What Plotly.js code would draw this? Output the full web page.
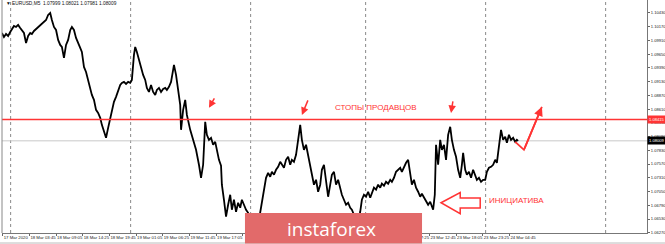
<!DOCTYPE html>
<html><head><meta charset="utf-8">
<script src="https://cdn.plot.ly/plotly-3.0.1.min.js"></script>
<style>html,body{margin:0;padding:0;background:#fff;}#chart{width:665px;height:244px;}</style>
</head><body><div id="chart"></div>
<script>
// M5 bar index (0 = 17 Mar 22:25) and EURUSD price
const barIdx = [-2,3,8,13,18,22,27,32,37,42,46,51,56,61,66,70,75,80,85,90,94,99,104,109,114,118,123,128,133,138,142,147,152,157,162,166,171,176,181,186,190,195,200,205,210,214,219,224,229,234,238,243,248,253,258,262,267,272,277,282,286,291,296,301,306,310,315,318,322,327,332,337,342,346,351,356,361,366,370,375,380,385,390,394,399,404,409,411,416,421,426,428,433,438,442,450,457,464,471,476,481,486,490,495,500,505,510,514,519,524,526,531,536,541,546,550,555,560,565,570,574,579,584,589,594,601,608,613,618,622,627,632,637,642,646,651,656,661,666,670,675,680,685,690,694,699,704,709,714,718,723,728,733,738,742,747,752,757,762,766,771,776,781,786,790,795,800,805,810,814,819,824,829,834,838,846,853,858,862,867,872,877,882,886,891,896,901,906,910,915,920,925,930,934,939,944,949,954,958,963,968,973,978,982,987,992,997,1002,1006,1011,1016,1021,1026,1030,1033,1037,1040,1045,1050,1054,1059,1064,1069,1074,1078,1083,1088,1093,1098,1102,1105,1110,1114,1119,1124,1129,1134,1138,1143,1148,1153,1158,1162,1167,1172,1177,1182,1186,1189,1194,1196,1201,1206,1210,1215,1220,1225,1230,1234,1237];
const prices = [1.10050,1.09975,1.10031,1.09994,1.10069,1.10126,1.10183,1.10164,1.10202,1.10145,1.10107,1.10050,1.09861,1.09994,1.10050,1.10031,1.10088,1.10126,1.10164,1.10202,1.10239,1.10277,1.10296,1.10391,1.10428,1.10296,1.10164,1.10107,1.09918,1.09824,1.09786,1.09578,1.09824,1.09918,1.10107,1.10164,1.10107,1.09956,1.09842,1.09767,1.09691,1.09408,1.09313,1.09162,1.08973,1.08879,1.08784,1.08595,1.08538,1.08444,1.08311,1.08161,1.08066,1.08255,1.08444,1.08557,1.08746,1.08841,1.08973,1.09067,1.09105,1.09124,1.09086,1.09124,1.09105,1.09162,1.09635,1.09786,1.09691,1.09540,1.09408,1.09257,1.09162,1.09011,1.08935,1.09067,1.08935,1.08879,1.08973,1.09011,1.08935,1.08992,1.09011,1.08973,1.09030,1.09124,1.09351,1.09446,1.09257,1.09011,1.08689,1.08217,1.08595,1.08784,1.08500,1.08217,1.08028,1.07839,1.07556,1.07310,1.07556,1.08368,1.08123,1.08028,1.08066,1.07934,1.07990,1.07839,1.07650,1.07537,1.07179,1.06894,1.06573,1.06800,1.06989,1.06705,1.06894,1.06667,1.06837,1.06743,1.06894,1.06800,1.06705,1.06648,1.06478,1.06402,1.06592,1.06421,1.06667,1.06894,1.07141,1.07310,1.07404,1.07329,1.07423,1.07367,1.07461,1.07518,1.07612,1.07556,1.07499,1.07650,1.07707,1.07556,1.07650,1.07612,1.07745,1.08028,1.08311,1.08028,1.07839,1.07934,1.07745,1.07556,1.07367,1.07179,1.07272,1.07046,1.07179,1.07461,1.07556,1.07272,1.06951,1.07179,1.07367,1.07423,1.07179,1.07272,1.07084,1.06989,1.06894,1.06800,1.06837,1.06743,1.06705,1.06554,1.06478,1.06667,1.06894,1.06989,1.06951,1.07046,1.06932,1.07008,1.07122,1.07084,1.07179,1.07122,1.07198,1.07160,1.07234,1.07198,1.07272,1.07234,1.07310,1.07423,1.07461,1.07499,1.07423,1.07518,1.07593,1.07650,1.07367,1.07179,1.07272,1.07122,1.07046,1.06951,1.07008,1.06932,1.06875,1.06800,1.06856,1.06762,1.06705,1.06989,1.07934,1.07556,1.08028,1.07839,1.07934,1.07650,1.08123,1.08274,1.08028,1.07839,1.07707,1.07461,1.07310,1.07556,1.07782,1.07461,1.07367,1.07423,1.07310,1.07461,1.07367,1.07272,1.07310,1.07234,1.07272,1.07272,1.07423,1.07499,1.07518,1.07556,1.07650,1.07593,1.07782,1.08161,1.08217,1.08028,1.08085,1.07971,1.08123,1.08028,1.08066,1.07990,1.08028,1.08009];

// labels under the instaforex plate are not visible in the reference, so left blank
const tickBars = [0,64,128,192,256,320,384,448,512,576,640,704,768,832,896,960,1024,1088,1152,1216];
const tickLabels = ["17 Mar 2020","18 Mar 03:45","18 Mar 09:05","18 Mar 14:25","18 Mar 19:45","19 Mar 01:05","19 Mar 06:25","19 Mar 11:45","19 Mar 17:05","","","","","","","23 Mar 07:25","23 Mar 12:45","23 Mar 18:05","23 Mar 23:25","24 Mar 04:45"];
const priceTicks = [1.06270,1.06530,1.06790,1.07050,1.07310,1.07570,1.07830,1.08090,1.08350,1.08610,1.08870,1.09130,1.09390,1.09650,1.09910,1.10170,1.10430];
const daySeparators = [19,307,595,871,1159,1447];

const stopLevel = 1.08415;
const lastPrice = 1.08009;
const header = "\u25BC EURUSD,M5  1.07999 1.08021 1.07981 1.08009";

// annotation drawings (arrows)
const smallArrowHeadX = [495,718,1076];
const smallArrowHeadY = [1.08633,1.08500,1.08538];
const smallArrowTailX = [510,734,1081];
const smallArrowTailY = [1.08841,1.08803,1.08784];
const planX = [1230,1251,1294];
const planY = [1.07990,1.07839,1.08652];
const hollowX = [1052,1098,1098,1146,1146,1098,1098];
const hollowY = [1.06837,1.07032,1.06926,1.06926,1.06737,1.06737,1.06629];

const RED = '#ff3434';
const FONT = 'Liberation Sans, Arial, sans-serif';
const traces = [
  {x: barIdx, y: prices, type:'scatter', mode:'lines', line:{color:'#000', width:1.8}, hoverinfo:'skip'},
  {x: planX, y: planY, type:'scatter', mode:'lines', line:{color:RED, width:1.8}, hoverinfo:'skip'}
];

const shapes = [];
daySeparators.forEach(b => shapes.push({type:'line', xref:'x', yref:'paper', x0:b, x1:b, y0:0, y1:1, line:{color:'#8a8a8a', width:1, dash:'dot'}, layer:'below'}));
shapes.push({type:'line', xref:'paper', yref:'y', x0:0, x1:1, y0:lastPrice, y1:lastPrice, line:{color:'#c8c8c8', width:1}, layer:'below'});
shapes.push({type:'line', xref:'paper', yref:'y', x0:0, x1:1, y0:stopLevel, y1:stopLevel, line:{color:RED, width:1.5}});
shapes.push({type:'line', xref:'paper', yref:'paper', x0:0, x1:0, y0:0, y1:1, line:{color:'#888', width:1}});
shapes.push({type:'line', xref:'paper', yref:'paper', x0:-0.01, x1:1.03, y0:-0.043, y1:-0.043, line:{color:'#bbb', width:1}});
let p = 'M ' + hollowX[0] + ',' + hollowY[0];
for (let i=1;i<hollowX.length;i++) p += ' L ' + hollowX[i] + ',' + hollowY[i];
p += ' Z';
shapes.push({type:'path', xref:'x', yref:'y', path:p, line:{color:RED, width:1.5}, fillcolor:'#fff'});
// instaforex logo plate
shapes.push({type:'rect', xref:'paper', yref:'paper', x0:0.3767, x1:0.6512, y0:-0.045, y1:0.0858, fillcolor:'#e26a6a', line:{width:0}, layer:'above'});

const annotations = [];
for (let i=0;i<smallArrowHeadX.length;i++) {
  annotations.push({x:smallArrowHeadX[i], y:smallArrowHeadY[i], ax:smallArrowTailX[i], ay:smallArrowTailY[i], axref:'x', ayref:'y', xref:'x', yref:'y', text:'', showarrow:true, arrowhead:2, arrowsize:1, arrowwidth:1.5, arrowcolor:RED, standoff:0});
}
annotations.push({x:planX[2], y:planY[2], ax:planX[1], ay:planY[1], axref:'x', ayref:'y', xref:'x', yref:'y', text:'', showarrow:true, arrowhead:2, arrowsize:1, arrowwidth:1.8, arrowcolor:RED, standoff:0});
annotations.push({x:897, y:1.08633, xref:'x', yref:'y', text:'СТОПЫ ПРОДАВЦОВ', showarrow:false, font:{family:FONT, size:8, color:RED}});
annotations.push({x:1232, y:1.06875, xref:'x', yref:'y', text:'ИНИЦИАТИВА', showarrow:false, font:{family:FONT, size:8, color:RED}});
annotations.push({x:0.003, y:0.983, xref:'paper', yref:'paper', xanchor:'left', yanchor:'middle', text:header, showarrow:false, font:{family:FONT, size:4.8, color:'#111'}});
annotations.push({x:1, y:stopLevel, xref:'paper', yref:'y', xanchor:'left', yanchor:'middle', text:stopLevel.toFixed(5), showarrow:false, bgcolor:RED, borderpad:1, font:{family:FONT, size:4.1, color:'#fff'}});
annotations.push({x:1, y:lastPrice, xref:'paper', yref:'y', xanchor:'left', yanchor:'middle', text:lastPrice.toFixed(5), showarrow:false, bgcolor:'#000', borderpad:1, font:{family:FONT, size:4.1, color:'#fff'}});
annotations.push({x:0.5109, y:0.018, xref:'paper', yref:'paper', xanchor:'center', yanchor:'middle', text:'instaforex', showarrow:false, font:{family:'Open Sans, sans-serif', size:19, color:'#fff'}});

const layout = {
  width:665, height:244,
  margin:{l:2, r:18, t:0, b:11, pad:0},
  paper_bgcolor:'#fff', plot_bgcolor:'#fff',
  showlegend:false,
  xaxis:{range:[-1.7,1546.3], tickmode:'array', tickvals:tickBars, ticktext:tickLabels, tickangle:0, ticks:'outside', ticklen:2, tickcolor:'#666', showgrid:false, zeroline:false, showline:true, linecolor:'#777', linewidth:1, ticklabelposition:'outside right', tickfont:{family:FONT, size:4.3, color:'#222'}, fixedrange:true, automargin:false},
  yaxis:{range:[1.06265,1.10674], side:'right', tickmode:'array', tickvals:priceTicks, tickformat:'.5f', ticks:'outside', ticklen:2, tickcolor:'#666', showgrid:false, zeroline:false, showline:true, linecolor:'#777', linewidth:1, tickfont:{family:FONT, size:4.1, color:'#222'}, fixedrange:true, automargin:false},
  shapes:shapes, annotations:annotations
};
Plotly.newPlot('chart', traces, layout, {staticPlot:true, displayModeBar:false});
</script></body></html>
